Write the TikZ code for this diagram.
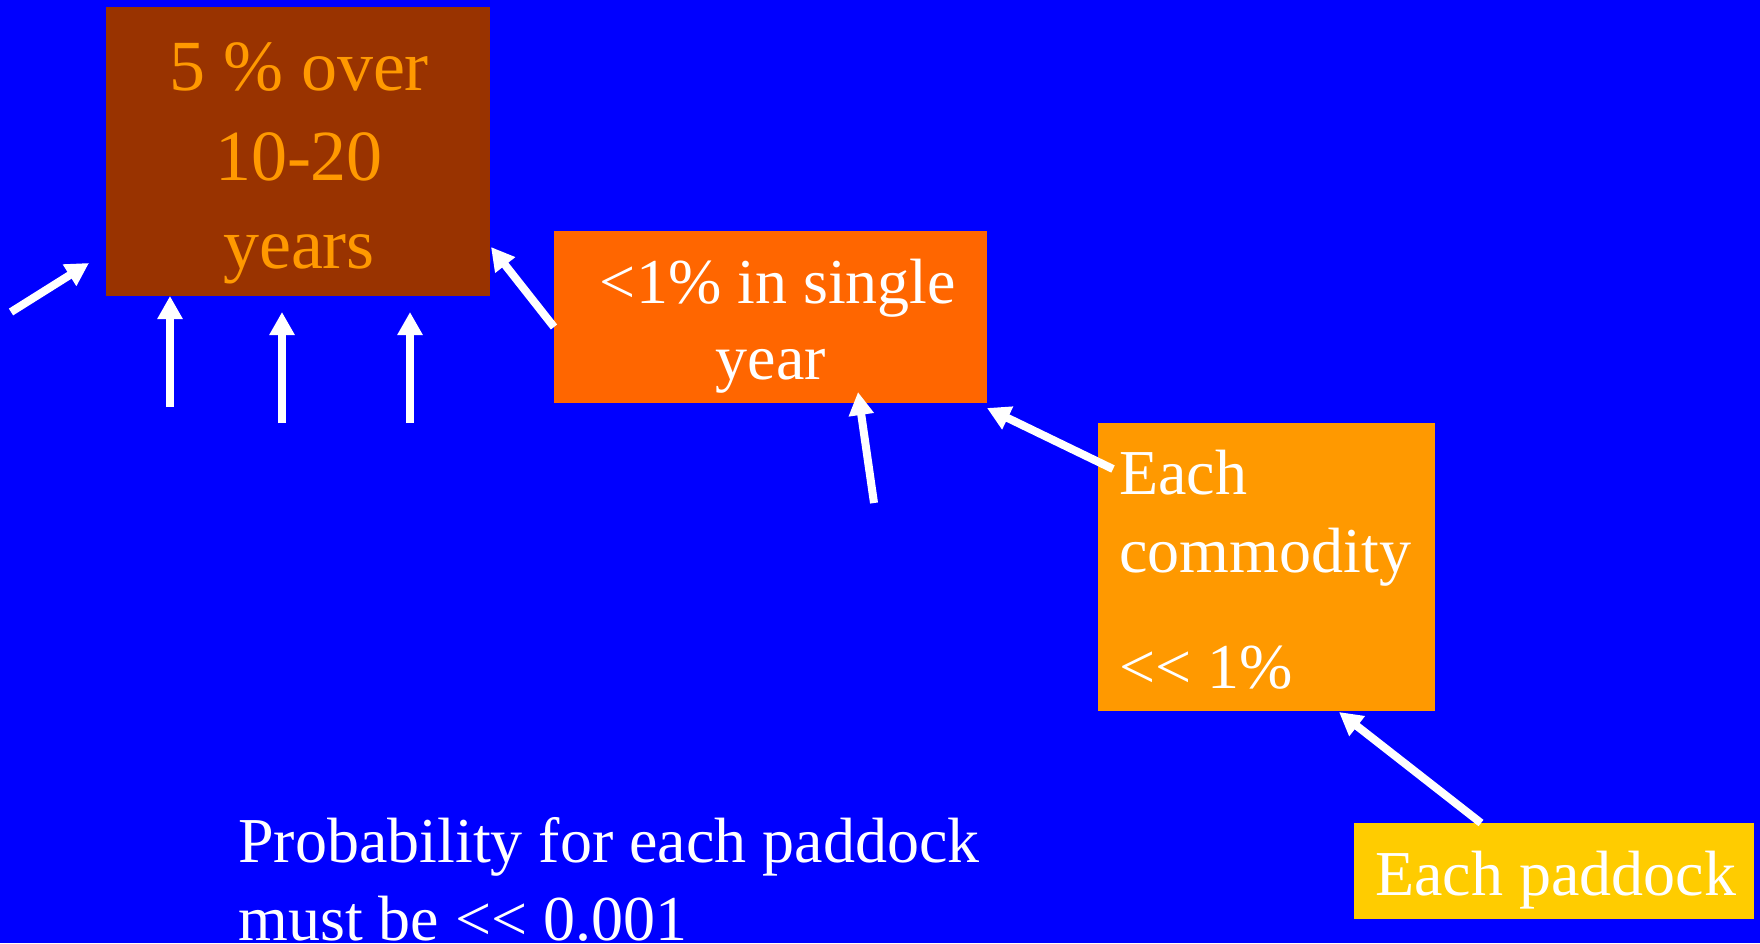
\documentclass[tikz,border=0pt]{standalone}
\usepackage{fontspec}
\setmainfont{Liberation Serif}
\usetikzlibrary{arrows.meta}
\definecolor{slideblue}{HTML}{0000FF}
\definecolor{rust}{HTML}{993300}
\definecolor{amber}{HTML}{FF9900}
\definecolor{tangerine}{HTML}{FF6600}
\definecolor{gold}{HTML}{FFCC00}
\begin{document}
\begin{tikzpicture}[x=0.5pt,y=-0.5pt,
  panel/.style={inner sep=0pt,outer sep=0pt,anchor=north west},
  bigtxt/.style={inner sep=0pt,anchor=base,font=\fontsize{36}{45}\selectfont,text=amber},
  txt/.style={inner sep=0pt,anchor=base,font=\fontsize{32}{39}\selectfont,text=white},
  ltxt/.style={txt,anchor=base west},
  link/.style={draw=white,line width=4pt,-{Triangle[width=12pt,length=11.5pt]}}]
  % background
  \fill[slideblue] (0,0) rectangle (1760,943);
  \useasboundingbox (0,0) rectangle (1760,943);

  % boxes
  \node[panel,fill=rust,minimum width=192pt,minimum height=144.5pt] (b1) at (106,7) {};
  \node[panel,fill=tangerine,minimum width=216.5pt,minimum height=86pt] (b2) at (554,231) {};
  \node[panel,fill=amber,minimum width=168.5pt,minimum height=144pt] (b3) at (1098,423) {};
  \node[panel,fill=gold,minimum width=200pt,minimum height=48pt] (b4) at (1354,823) {};

  % box texts
  \node[bigtxt] (t1a) at (299,90) {5 \% over};
  \node[bigtxt] (t1b) at (299,180) {10-20};
  \node[bigtxt] (t1c) at (299,268) {years};

  \node[txt] (t2a) at (778,303) {<1\% in single};
  \node[txt] (t2b) at (771,379) {year};

  \node[ltxt] (t3a) at (1119,494) {Each};
  \node[ltxt] (t3b) at (1119,572) {commodity};
  \node[ltxt] (t3c) at (1119,688) {<{}< 1\%};

  \node[ltxt] (t4) at (1375,895) {Each paddock};

  \node[ltxt] (n1) at (238,862) {Probability for each paddock};
  \node[ltxt] (n2) at (238,940) {must be <{}< 0.001};

  % arrow ends
  \coordinate (aT) at (11,312);   \coordinate (aH) at (89,263);
  \coordinate (bT) at (170,407);  \coordinate (bH) at (170,296);
  \coordinate (cT) at (282,423);  \coordinate (cH) at (282,312);
  \coordinate (dT) at (410,423);  \coordinate (dH) at (410,312);
  \coordinate (eT) at (554,327);  \coordinate (eH) at (491,247);
  \coordinate (fT) at (874,503);  \coordinate (fH) at (858,392);
  \coordinate (gT) at (1113,469); \coordinate (gH) at (987,408);
  \coordinate (hT) at (1481,823); \coordinate (hH) at (1339,712);

  % arrows
  \draw[link] (aT) -- (aH);
  \draw[link] (bT) -- (bH);
  \draw[link] (cT) -- (cH);
  \draw[link] (dT) -- (dH);
  \draw[link] (eT) -- (eH);
  \draw[link] (fT) -- (fH);
  \draw[link] (gT) -- (gH);
  \draw[link] (hT) -- (hH);
\end{tikzpicture}
\end{document}
